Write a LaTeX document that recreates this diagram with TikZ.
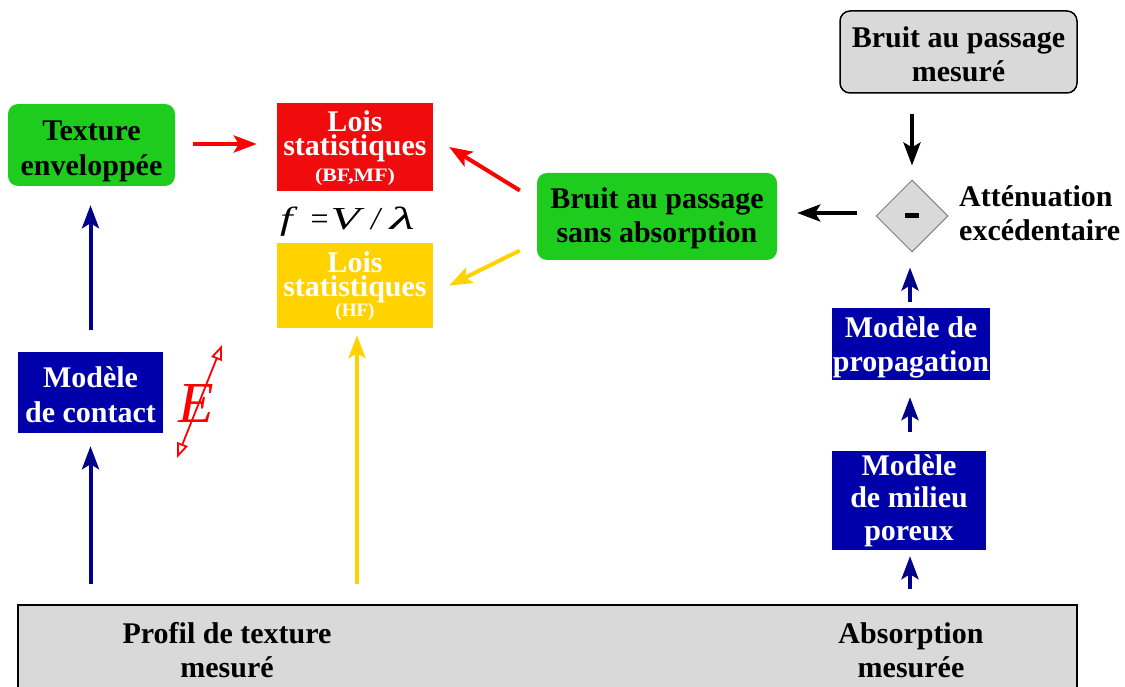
\documentclass[tikz,border=0pt]{standalone}
\usepackage{fontspec}
\usepackage{graphicx}
\setmainfont{Liberation Serif}
\usetikzlibrary{arrows.meta,shapes.geometric,calc}
\definecolor{boxgreen}{RGB}{30,204,30}
\definecolor{boxred}{RGB}{240,12,12}
\definecolor{boxyellow}{RGB}{255,210,0}
\definecolor{boxblue}{RGB}{0,0,170}
\definecolor{arrblue}{RGB}{0,0,140}
\definecolor{boxgrey}{RGB}{217,217,217}
\definecolor{arrred}{RGB}{255,0,0}
% #1 = raise of the last baseline (negative = down), #2 = baselineskip, #3 = lines separated by \cr
\newcommand\stacklines[3]{\raisebox{#1}[0pt][0pt]{\vbox{\baselineskip=#2\lineskiplimit=-100pt\relax\halign{\hfil##\hfil\cr#3\crcr}}}}
\newcommand\stackleft[3]{\raisebox{#1}[0pt][0pt]{\vbox{\baselineskip=#2\lineskiplimit=-100pt\relax\halign{##\hfil\cr#3\crcr}}}}
\begin{document}
\begin{tikzpicture}[x=1pt,y=-1pt,
  base/.style={inner sep=0pt, font=\fontsize{30}{34}\selectfont\bfseries},
  greenbox/.style={base, fill=boxgreen, rounded corners=10pt},
  bluebox/.style={base, fill=boxblue, text=white},
  loisbox/.style={base, text=white},
  greybox/.style={base, fill=boxgrey, draw=black, line width=1.5pt, rounded corners=10pt},
  arr/.style={line width=4pt, -{Stealth[length=23pt,width=17pt,inset=5pt]}},
  redarr/.style={arr, draw=arrred},
  yelarr/.style={arr, draw=boxyellow},
  bluarr/.style={arr, draw=arrblue},
  blkarr/.style={arr, draw=black},
]
\useasboundingbox (0,0) rectangle (1125,687);

% nodes
\node[greenbox, minimum width=167pt, minimum height=82pt] (texture) at (91.5,145)
  {\stacklines{-30.5pt}{35pt}{Texture\cr enveloppée}};
\node[loisbox, fill=boxred, minimum width=156pt, minimum height=88pt] (loisBF) at (355,147)
  {\stacklines{-34.5pt}{24.5pt}{Lois\cr statistiques\cr\noalign{\vskip 1pt}\scalebox{1.15}[1]{\fontsize{19}{19}\selectfont (BF,MF)}}};
\node[inner sep=0pt, anchor=base west, font=\fontsize{32}{34}\selectfont] (formula) at (280,230)
  {\scalebox{1.4}[1]{\itshape f}\hspace{18pt}\upshape=\hspace{2pt}\scalebox{1.5}[1]{\itshape V}\hspace{11pt}\itshape/\hspace{10pt}\scalebox{1.8}[1]{\itshape λ}};
\node[loisbox, fill=boxyellow, minimum width=156pt, minimum height=85pt] (loisHF) at (355,285.5)
  {\stacklines{-31pt}{24pt}{Lois\cr statistiques\cr\noalign{\vskip -4pt}{\fontsize{19}{19}\selectfont (HF)}}};
\node[greenbox, minimum width=240pt, minimum height=87pt] (bruitSans) at (657,216.5)
  {\stacklines{-26pt}{34pt}{Bruit au passage\cr sans absorption}};
\node[greybox, minimum width=237pt, minimum height=82pt] (bruitMes) at (958.5,52)
  {\stacklines{-29.5pt}{34pt}{Bruit au passage\cr mesuré}};
\node[diamond, aspect=1, minimum width=72pt, minimum height=72pt, inner sep=0pt, fill=boxgrey, draw=gray, line width=1pt] (diam) at (912,216) {\rule{14pt}{5pt}};
\node[base, anchor=west] (atten) at (959,240.5) {\stackleft{0pt}{34pt}{Atténuation\cr excédentaire}};
\node[bluebox, minimum width=158pt, minimum height=72pt] (propag) at (911,344)
  {\stacklines{-27pt}{33pt}{Modèle de\cr propagation}};
\node[bluebox, minimum width=154pt, minimum height=99pt] (poreux) at (909,500.5)
  {\stacklines{-39.5pt}{32.5pt}{Modèle\cr de milieu\cr poreux}};
\node[bluebox, minimum width=145pt, minimum height=81pt] (contact) at (90.5,392.5)
  {\stacklines{-29.5pt}{35pt}{Modèle\cr de contact}};
\node[draw=black, line width=1.5pt, fill=boxgrey, minimum width=1059pt, minimum height=100pt, inner sep=0pt] (bar) at (547.5,655) {};
\node[base] (profil) at (227,677) {\stacklines{0pt}{34pt}{Profil de texture\cr mesuré}};
\node[base] (absorp) at (911,677) {\stacklines{0pt}{34pt}{Absorption\cr mesurée}};

% E symbol
\node[inner sep=0pt, text=arrred, font=\fontsize{58}{60}\selectfont\itshape] (eE) at (196,404) {E};
\coordinate (eTop) at (222,345);
\coordinate (eBot) at (177,458);
\draw[arrred, line width=1.8pt, {Triangle[open,length=15pt,width=11pt]}-{Triangle[open,length=15pt,width=11pt]}] (eBot) -- (eTop);

% connectors
\draw[redarr, shorten <=18pt, shorten >=20pt] ($(texture.east)+(0,-1)$) -- ($(loisBF.west)+(0,-3)$);
\coordinate (bsA) at ($(bruitSans.west)+(-17,-26)$);
\coordinate (bsB) at ($(loisBF.east)+(16,0)$);
\draw[redarr] (bsA) -- (bsB);
\coordinate (bsC) at ($(bruitSans.west)+(-17,34)$);
\coordinate (bsD) at ($(loisHF.east)+(16,0)$);
\draw[yelarr] (bsC) -- (bsD);
\draw[yelarr, shorten <=20pt, shorten >=7pt] ($(bar.north -| loisHF.south)+(2,0)$) -- ($(loisHF.south)+(2,0)$);
\draw[bluarr, shorten <=20pt, shorten >=13pt] (bar.north -| contact.south) -- (contact.south);
\draw[bluarr, shorten <=22pt, shorten >=19pt] (contact.north) -- (contact.north |- texture.south);
\draw[blkarr, shorten <=20pt, shorten >=14pt] (bruitMes.south -| diam.north) -- (diam.north);
\draw[blkarr, shorten <=19pt, shorten >=20pt] ($(diam.west)+(0,-3)$) -- ($(bruitSans.east |- diam.west)+(0,-3)$);
\draw[bluarr, shorten <=6pt, shorten >=15pt] ($(propag.north -| diam.south)+(-2,0)$) -- ($(diam.south)+(-2,0)$);
\draw[bluarr, shorten <=19pt, shorten >=17pt] ($(poreux.north)+(1,0)$) -- ($(poreux.north |- propag.south)+(1,0)$);
\draw[bluarr, shorten <=15pt, shorten >=6pt] ($(bar.north -| poreux.south)+(1,0)$) -- ($(poreux.south)+(1,0)$);
\end{tikzpicture}
\end{document}
